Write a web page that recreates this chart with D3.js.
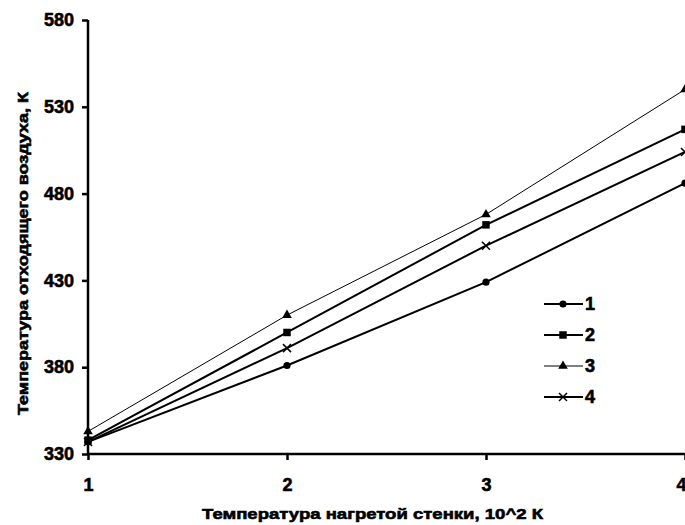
<!DOCTYPE html>
<html>
<head>
<meta charset="utf-8">
<script src="https://cdn.jsdelivr.net/npm/d3@7"></script>
<style>
  body { margin: 0; background: #fff; }
  svg text { font-family: "Liberation Sans", Arial, sans-serif; font-weight: 900; fill: #000; stroke: #000; stroke-width: 0.6px; }
</style>
</head>
<body>
<svg id="chart" width="685" height="525"></svg>
<script>
// wall temperature, 10^2 K
var xValues = [1, 2, 3, 4];
var xTicks = [1, 2, 3, 4];
var yTicks = [330, 380, 430, 480, 530, 580];

// exhaust air temperature, K
var series1 = [337, 381, 429, 486];
var series2 = [338, 400, 462, 517];
var series3 = [343, 410, 468, 540];
var series4 = [337, 391, 450, 504];

var seriesNames = ['1', '2', '3', '4'];
var seriesList = [series1, series2, series3, series4];
var symbols = [d3.symbolCircle, d3.symbolSquare, d3.symbolTriangle, d3.symbolCross];
var widths = [2, 2, 1, 2];

var svg = d3.select('#chart');
var M = {left: 88, right: 0, top: 20, bottom: 71};
var W = 685, H = 525;

var x = d3.scaleLinear().domain([1, 4]).range([M.left, W - M.right]);
var y = d3.scaleLinear().domain([330, 580]).range([H - M.bottom, M.top]);

var lineGen = d3.line()
  .x(function (d, i) { return x(xValues[i]); })
  .y(function (d) { return y(d); });

seriesList.forEach(function (s, k) {
  svg.append('path')
    .attr('d', lineGen(s))
    .attr('fill', 'none')
    .attr('stroke', '#000')
    .attr('stroke-width', widths[k]);
});

function marker(g, k, cx, cy) {
  if (k === 3) {
    var r = 4;
    g.append('path')
      .attr('d', 'M' + (cx - r) + ',' + (cy - r) + 'L' + (cx + r) + ',' + (cy + r) +
                 'M' + (cx - r) + ',' + (cy + r) + 'L' + (cx + r) + ',' + (cy - r))
      .attr('stroke', '#000').attr('stroke-width', 1.5);
  } else {
    var size = [40, 56, 40][k];
    g.append('path')
      .attr('d', d3.symbol().type(symbols[k]).size(size)())
      .attr('transform', 'translate(' + cx + ',' + cy + ')')
      .attr('fill', '#000');
  }
}

seriesList.forEach(function (s, k) {
  s.forEach(function (v, i) { marker(svg, k, x(xValues[i]), y(v)); });
});

// axes
var xAxis = d3.axisBottom(x).tickValues(xTicks).tickSize(6).tickPadding(18).tickFormat(d3.format('d'));
var yAxis = d3.axisLeft(y).tickValues(yTicks).tickSize(6).tickPadding(8).tickFormat(d3.format('d'));

var gx = svg.append('g').attr('transform', 'translate(0,' + (H - M.bottom) + ')').call(xAxis);
var gy = svg.append('g').attr('transform', 'translate(' + M.left + ',0)').call(yAxis);

[gx, gy].forEach(function (g) {
  g.attr('font-family', null);
  g.select('.domain').attr('stroke', '#000').attr('stroke-width', 2.5);
  g.selectAll('.tick line').attr('stroke', '#000').attr('stroke-width', 2.5);
  g.selectAll('.tick text').style('font-size', '18px');
});
gx.select('.domain').attr('d', 'M' + M.left + ',0H' + W);
gy.select('.domain').attr('d', 'M0,' + M.top + 'V' + (H - M.bottom));
// last x tick label sits on the right edge
gx.selectAll('.tick text').filter(function (d) { return d === 4; }).attr('text-anchor', 'end').attr('x', 1);

svg.append('text')
  .attr('x', 202).attr('y', 519)
  .attr('textLength', 341).attr('lengthAdjust', 'spacingAndGlyphs')
  .style('font-size', '15px')
  .text('Температура нагретой стенки, 10^2 К');

svg.append('text')
  .attr('transform', 'translate(28,415) rotate(-90)')
  .attr('textLength', 323).attr('lengthAdjust', 'spacingAndGlyphs')
  .style('font-size', '15px')
  .text('Температура отходящего воздуха, К');

// legend
var legendY = [304, 335, 366, 397];
seriesNames.forEach(function (name, k) {
  var g = svg.append('g');
  g.append('line')
    .attr('x1', 544).attr('x2', 583)
    .attr('y1', legendY[k]).attr('y2', legendY[k])
    .attr('stroke', '#000').attr('stroke-width', widths[k]);
  marker(g, k, 563, legendY[k]);
  g.append('text')
    .attr('x', 585).attr('y', legendY[k] + 6)
    .style('font-size', '18px')
    .text(name);
});
</script>
</body>
</html>
